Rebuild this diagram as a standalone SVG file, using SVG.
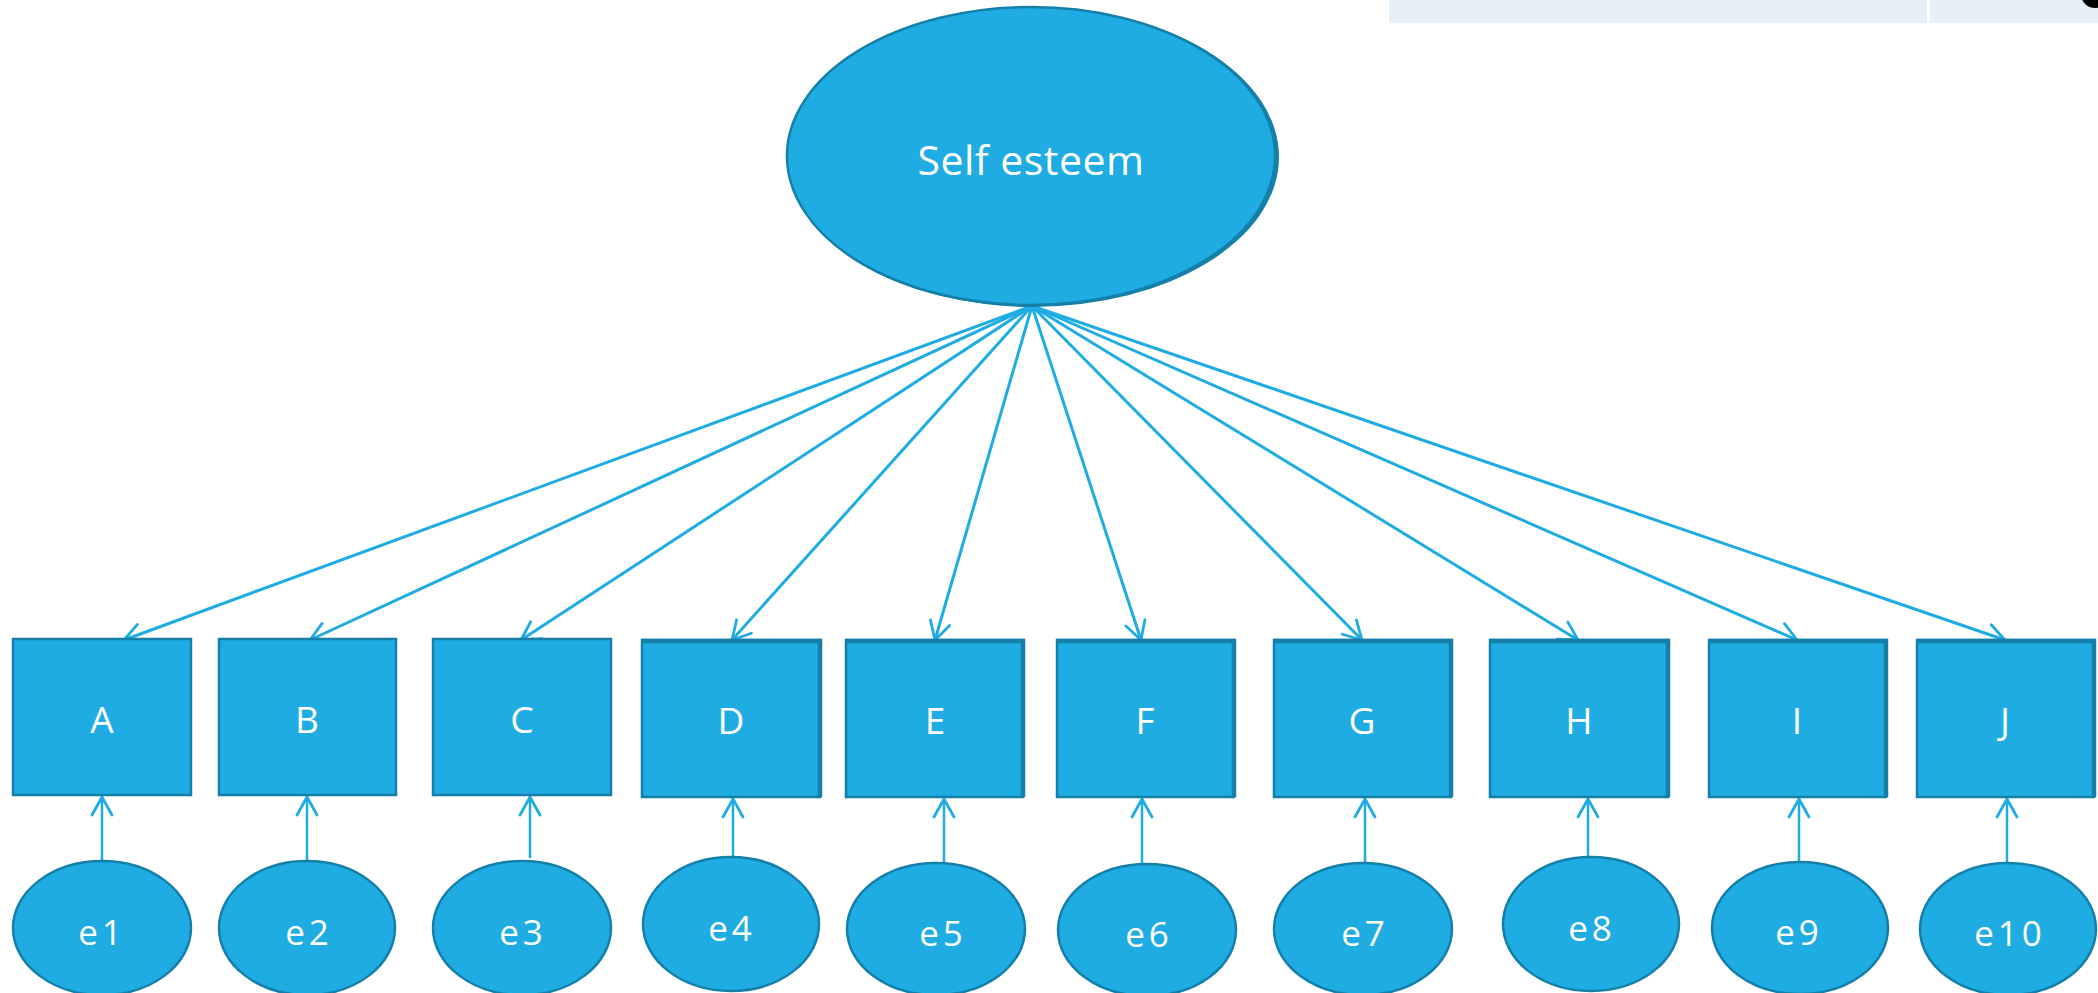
<svg xmlns="http://www.w3.org/2000/svg" width="2098" height="993" viewBox="0 0 2098 993">
  <style>
    .node { fill: #1eace2; stroke: #1480aa; stroke-width: 2.5; }
    .edge { fill: none; stroke: #1eace2; stroke-width: 3; }
    .err  { fill: none; stroke: #1eace2; stroke-width: 2.5; }
    .shade { fill: none; stroke: #1480aa; stroke-width: 4.5; }
    .lbl  { fill: #ffffff; font-family: "Open Sans", "Liberation Sans", sans-serif; text-anchor: middle; }
    .big  { font-size: 41px; letter-spacing: 0.5px; }
    .box  { font-size: 37px; }
    .sm   { font-size: 35px; letter-spacing: 4px; }
  </style>
  <defs>
    <marker id="open" viewBox="-22 -13 24 26" refX="0" refY="0" markerWidth="24" markerHeight="26" markerUnits="userSpaceOnUse" orient="auto">
      <path d="M-18,-10 L0,0 L-18,10" fill="none" stroke="#1eace2" stroke-width="2.8" stroke-linecap="round" stroke-linejoin="round"/>
    </marker>
  </defs>

  <rect width="2098" height="993" fill="#ffffff"/>

  <!-- header strip, top right -->
  <g id="header">
    <rect x="1389" y="0" width="709" height="23" fill="#e5f0f9"/>
    <rect x="1927" y="0" width="3" height="23" fill="#ffffff"/>
    <circle cx="2095" cy="-6" r="14" fill="#000000"/>
  </g>

  <!-- connectors -->
  <g id="connectors">
    <line class="edge" x1="1032" y1="306" x2="124" y2="640" marker-end="url(#open)"/>
    <line class="edge" x1="1032" y1="306" x2="310" y2="640" marker-end="url(#open)"/>
    <line class="edge" x1="1032" y1="306" x2="521" y2="640" marker-end="url(#open)"/>
    <line class="edge" x1="1032" y1="306" x2="732" y2="640" marker-end="url(#open)"/>
    <line class="edge" x1="1032" y1="306" x2="935" y2="640" marker-end="url(#open)"/>
    <line class="edge" x1="1032" y1="306" x2="1141" y2="640" marker-end="url(#open)"/>
    <line class="edge" x1="1032" y1="306" x2="1362" y2="640" marker-end="url(#open)"/>
    <line class="edge" x1="1032" y1="306" x2="1578" y2="640" marker-end="url(#open)"/>
    <line class="edge" x1="1032" y1="306" x2="1797" y2="640" marker-end="url(#open)"/>
    <line class="edge" x1="1032" y1="306" x2="2005" y2="640" marker-end="url(#open)"/>

    <line class="err" x1="102" y1="861" x2="102" y2="797" marker-end="url(#open)"/>
    <line class="err" x1="307" y1="861" x2="307" y2="797" marker-end="url(#open)"/>
    <line class="err" x1="530" y1="858" x2="530" y2="797" marker-end="url(#open)"/>
    <line class="err" x1="733" y1="857" x2="733" y2="799" marker-end="url(#open)"/>
    <line class="err" x1="944" y1="863" x2="944" y2="799" marker-end="url(#open)"/>
    <line class="err" x1="1142" y1="864" x2="1142" y2="799" marker-end="url(#open)"/>
    <line class="err" x1="1365" y1="863" x2="1365" y2="799" marker-end="url(#open)"/>
    <line class="err" x1="1588" y1="857" x2="1588" y2="799" marker-end="url(#open)"/>
    <line class="err" x1="1799" y1="862" x2="1799" y2="799" marker-end="url(#open)"/>
    <line class="err" x1="2007" y1="863" x2="2007" y2="799" marker-end="url(#open)"/>
  </g>

  <!-- latent factor -->
  <g id="self-esteem">
    <ellipse cx="1033" cy="157" rx="246" ry="150" fill="#1480aa"/>
    <ellipse class="node" cx="1031" cy="156" rx="244" ry="149" stroke-width="2"/>
    <text class="lbl big" x="1031" y="175">Self esteem</text>
  </g>

  <!-- observed items -->
  <g id="item-A"><rect class="node" x="13" y="639" width="178" height="156"/><text class="lbl box" x="102" y="733">A</text></g>
  <g id="item-B"><rect class="node" x="219" y="639" width="177" height="156"/><text class="lbl box" x="307" y="733">B</text></g>
  <g id="item-C"><rect class="node" x="433" y="639" width="178" height="156"/><text class="lbl box" x="522" y="733">C</text></g>
  <g id="item-D"><rect class="node" x="642" y="640" width="178" height="157"/><path class="shade" d="M642,641 H820 V797"/><text class="lbl box" x="731" y="734">D</text></g>
  <g id="item-E"><rect class="node" x="846" y="640" width="177" height="157"/><path class="shade" d="M846,641 H1023 V797"/><text class="lbl box" x="935" y="734">E</text></g>
  <g id="item-F"><rect class="node" x="1057" y="640" width="177" height="157"/><path class="shade" d="M1057,641 H1234 V797"/><text class="lbl box" x="1145" y="734">F</text></g>
  <g id="item-G"><rect class="node" x="1274" y="640" width="177" height="157"/><path class="shade" d="M1274,641 H1451 V797"/><text class="lbl box" x="1362" y="734">G</text></g>
  <g id="item-H"><rect class="node" x="1490" y="640" width="178" height="157"/><path class="shade" d="M1490,641 H1668 V797"/><text class="lbl box" x="1579" y="734">H</text></g>
  <g id="item-I"><rect class="node" x="1709" y="640" width="177" height="157"/><path class="shade" d="M1709,641 H1886 V797"/><text class="lbl box" x="1797" y="734">I</text></g>
  <g id="item-J"><rect class="node" x="1917" y="640" width="177" height="157"/><path class="shade" d="M1917,641 H2094 V797"/><text class="lbl box" x="2005" y="734">J</text></g>

  <!-- error terms -->
  <g id="e1"><ellipse class="node" cx="102" cy="928" rx="89" ry="67"/><text class="lbl sm" x="102" y="945">e1</text></g>
  <g id="e2"><ellipse class="node" cx="307" cy="928" rx="88" ry="67"/><text class="lbl sm" x="309" y="945">e2</text></g>
  <g id="e3"><ellipse class="node" cx="522" cy="928" rx="89" ry="67"/><text class="lbl sm" x="523" y="945">e3</text></g>
  <g id="e4"><ellipse class="node" cx="731" cy="924" rx="88" ry="67"/><text class="lbl sm" x="732" y="941">e4</text></g>
  <g id="e5"><ellipse class="node" cx="936" cy="929" rx="89" ry="66"/><text class="lbl sm" x="943" y="946">e5</text></g>
  <g id="e6"><ellipse class="node" cx="1147" cy="930" rx="89" ry="66"/><text class="lbl sm" x="1149" y="947">e6</text></g>
  <g id="e7"><ellipse class="node" cx="1363" cy="929" rx="89" ry="66"/><text class="lbl sm" x="1365" y="946">e7</text></g>
  <g id="e8"><ellipse class="node" cx="1591" cy="924" rx="88" ry="67"/><text class="lbl sm" x="1592" y="941">e8</text></g>
  <g id="e9"><ellipse class="node" cx="1800" cy="928" rx="88" ry="66"/><text class="lbl sm" x="1799" y="945">e9</text></g>
  <g id="e10"><ellipse class="node" cx="2008" cy="929" rx="88" ry="66"/><text class="lbl sm" x="2010" y="946">e10</text></g>
</svg>
